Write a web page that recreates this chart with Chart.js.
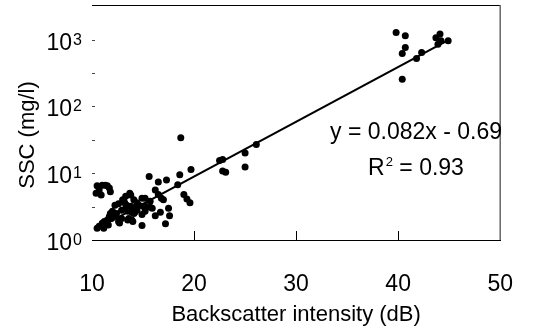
<!DOCTYPE html>
<html>
<head>
<meta charset="utf-8">
<script src="https://cdn.jsdelivr.net/npm/chart.js@4.4.0/dist/chart.umd.min.js"></script>
<style>
  html, body { margin: 0; padding: 0; background: #fff; }
  #wrap { width: 544px; height: 332px; }
</style>
</head>
<body>
<div id="wrap"><canvas id="myChart" width="544" height="332"></canvas></div>
<script>
// backscatter (dB) and suspended sediment concentration (mg/l), paired by index
const backscatterDb = [
  39.8, 40.7, 40.7, 40.4, 40.4, 41.8, 42.3, 43.7, 44.1, 43.9, 44.2, 44.9,
  18.7, 19.7, 18.6, 18.4, 19.0, 19.3, 19.6, 22.5, 22.8, 22.8, 23.1, 25.0, 25.0, 26.1,
  15.6, 16.5, 17.3, 16.2, 16.5, 16.8, 17.0, 17.5, 17.6, 17.2, 16.7, 16.2, 15.7, 15.9, 15.2, 14.9, 15.7, 15.2,
  10.4, 10.5, 10.7, 10.9, 11.0, 11.3, 11.5, 11.7, 11.8,
  10.5, 10.7, 11.0, 11.15, 11.2, 11.5, 11.6, 11.7, 11.9, 11.8, 12.0, 12.25, 12.4, 12.6, 12.6,
  12.7, 12.9, 12.9, 13.0, 13.1, 13.2, 13.3, 13.3, 13.5, 13.5, 13.6, 13.7, 13.8, 13.8, 13.9,
  14.0, 14.1, 14.1, 14.2, 14.4, 14.4, 14.6, 14.9, 14.9, 15.0, 15.2, 13.9, 13.4, 12.2, 14.3
];
const sscMgL = [
  1280, 1140, 760, 620, 255, 520, 640, 1070, 1210, 850, 960, 960,
  34, 11.4, 9.5, 6.7, 4.8, 4.1, 3.6, 15.5, 16, 10.8, 10.3, 20, 12.4, 27,
  8.9, 7.4, 7.9, 5.6, 4.8, 4.2, 4.0, 3.0, 2.3, 1.75, 2.6, 2.3, 3.1, 3.0, 2.7, 1.65, 3.8, 4.2,
  5.0, 6.5, 5.6, 4.7, 6.6, 6.6, 6.5, 6.0, 5.3,
  1.5, 1.6, 1.78, 1.5, 1.9, 2.0, 1.68, 2.25, 2.1, 2.5, 2.7, 3.3, 2.5, 3.5, 1.9,
  1.8, 2.8, 2.1, 4.0, 3.9, 3.6, 4.5, 3.0, 2.7, 2.0, 2.1, 5.0, 4.7, 3.2, 2.0,
  1.9, 4.0, 2.5, 2.6, 3.6, 2.8, 3.3, 4.2, 2.4, 3.2, 3.2, 2.6, 3.3, 2.3, 3.0
];

// log10(SSC) = slope * dB + intercept
const fitSlope = 0.082;
const fitIntercept = -0.69;
const rSquared = 0.93;
const fitRange = [10.4, 45.0];

const xTickValues = [10, 20, 30, 40, 50];
const yTickValues = [1, 10, 100, 1000];
const yTickExponents = ['0', '1', '2', '3'];
const yMinorTicks = [3.16, 31.6, 316];

const points = backscatterDb.map((x, i) => ({ x: x, y: sscMgL[i] }));
const fitLine = fitRange.map(x => ({ x: x, y: Math.pow(10, fitSlope * x + fitIntercept) }));

const FONT = '"Liberation Sans", Arial, sans-serif';

const decorations = {
  id: 'decorations',
  afterDraw(chart) {
    const ctx = chart.ctx;
    const a = chart.chartArea;
    const xs = chart.scales.x, ys = chart.scales.y;
    ctx.save();

    // top edge and right edge of the frame
    ctx.strokeStyle = '#000';
    ctx.lineWidth = 1;
    ctx.beginPath();
    ctx.moveTo(a.left, a.top + 0.5);
    ctx.lineTo(a.right, a.top + 0.5);
    ctx.stroke();
    ctx.strokeStyle = '#666';
    ctx.lineWidth = 1.5;
    ctx.beginPath();
    ctx.moveTo(a.right, a.top);
    ctx.lineTo(a.right, a.bottom);
    ctx.stroke();

    // inward tick marks
    ctx.strokeStyle = '#000';
    ctx.lineWidth = 1;
    xTickValues.slice(1, -1).forEach(v => {
      const px = Math.round(xs.getPixelForValue(v)) + 0.5;
      ctx.beginPath();
      ctx.moveTo(px, a.bottom);
      ctx.lineTo(px, a.bottom - 9);
      ctx.stroke();
    });
    ctx.strokeStyle = '#444';
    yTickValues.slice(1).concat(yMinorTicks).forEach(v => {
      const py = Math.round(ys.getPixelForValue(v)) + 0.5;
      ctx.beginPath();
      ctx.moveTo(a.left, py);
      ctx.lineTo(a.left + 3, py);
      ctx.stroke();
    });

    // y tick labels as powers of ten
    ctx.fillStyle = '#000';
    ctx.textBaseline = 'alphabetic';
    yTickValues.forEach((v, i) => {
      const py = ys.getPixelForValue(v);
      ctx.font = '23px ' + FONT;
      ctx.textAlign = 'right';
      ctx.fillText('10', a.left - 20, py + 10);
      ctx.font = '16px ' + FONT;
      ctx.textAlign = 'left';
      ctx.fillText(yTickExponents[i], a.left - 19, py + 5);
    });

    // y axis title
    ctx.save();
    ctx.translate(28, 135);
    ctx.rotate(-Math.PI / 2);
    ctx.font = '22px ' + FONT;
    ctx.textAlign = 'center';
    ctx.textBaseline = 'middle';
    ctx.fillText('SSC (mg/l)', 0, 0);
    ctx.restore();

    // regression equation
    const cx = 416;
    ctx.font = '23px ' + FONT;
    ctx.textAlign = 'center';
    ctx.textBaseline = 'alphabetic';
    const eq = 'y = ' + fitSlope.toFixed(3) + 'x - ' + Math.abs(fitIntercept).toFixed(2);
    ctx.fillText(eq, cx, 139);

    const r = 'R', sup = '2', rest = ' = ' + rSquared.toFixed(2);
    ctx.font = '23px ' + FONT;
    const wR = ctx.measureText(r).width, wRest = ctx.measureText(rest).width;
    ctx.font = '13px ' + FONT;
    const wSup = ctx.measureText(sup).width + 1;
    let x0 = cx - (wR + wSup + wRest) / 2;
    ctx.textAlign = 'left';
    ctx.font = '23px ' + FONT;
    ctx.fillText(r, x0, 175);
    ctx.font = '13px ' + FONT;
    ctx.fillText(sup, x0 + wR + 1, 166);
    ctx.font = '23px ' + FONT;
    ctx.fillText(rest, x0 + wR + wSup, 175);

    ctx.restore();
  }
};

new Chart(document.getElementById('myChart').getContext('2d'), {
  type: 'scatter',
  data: {
    datasets: [
      {
        label: 'SSC',
        data: points,
        backgroundColor: '#000',
        borderColor: '#000',
        pointRadius: 3.5,
        pointBorderWidth: 0,
        showLine: false
      },
      {
        label: 'Fit',
        data: fitLine,
        showLine: true,
        borderColor: '#000',
        borderWidth: 2.2,
        pointRadius: 0,
        fill: false
      }
    ]
  },
  options: {
    responsive: false,
    devicePixelRatio: 1,
    animation: false,
    layout: { padding: { top: 5, right: 25, left: 0, bottom: 0 } },
    plugins: { legend: { display: false }, tooltip: { enabled: false } },
    scales: {
      x: {
        type: 'linear',
        min: 10,
        max: 50,
        afterBuildTicks: scale => { scale.ticks = xTickValues.map(v => ({ value: v })); },
        afterFit: scale => { scale.height = 92; },
        grid: { display: false, drawTicks: false },
        border: { display: true, color: '#000', width: 1 },
        ticks: {
          autoSkip: false,
          maxRotation: 0,
          padding: 31,
          color: '#000',
          font: { family: FONT, size: 23 }
        },
        title: {
          display: true,
          text: 'Backscatter intensity (dB)',
          color: '#000',
          font: { family: FONT, size: 22 },
          padding: { top: 0, bottom: 4 }
        }
      },
      y: {
        type: 'logarithmic',
        min: 1,
        max: 3300,
        afterFit: scale => { scale.width = 92; },
        grid: { display: false, drawTicks: false },
        border: { display: false },
        ticks: { display: false }
      }
    }
  },
  plugins: [decorations]
});
</script>
</body>
</html>
